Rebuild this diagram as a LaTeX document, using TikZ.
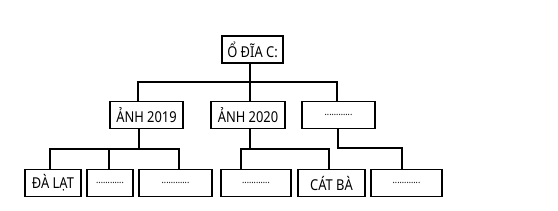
\documentclass[tikz,border=0pt]{standalone}
\usepackage{fontspec}
\setmainfont{Noto Sans}[FakeStretch=0.86]
\begin{document}
\begin{tikzpicture}[x=1pt,y=-1pt,
  box/.style={draw,line width=1.5pt,rectangle,inner sep=0pt,minimum height=27pt,font=\fontsize{15}{15}\selectfont},
  dots/.style={font=\fontsize{10}{10}\selectfont},
  conn/.style={line width=1.2pt}]
\useasboundingbox (0,0) rectangle (558,210);
\node[box,minimum width=61pt] (root) at (252.5,49.5) {Ổ ĐĨA C:};
\node[box,minimum width=73pt] (a19) at (146.5,115) {ẢNH 2019};
\node[box,minimum width=74pt] (a20) at (248,115) {ẢNH 2020};
\node[box,dots,minimum width=73pt] (d2) at (338.5,115) {............};
\node[box,minimum width=56pt] (b1) at (53,183) {ĐÀ LẠT};
\node[box,dots,minimum width=46pt] (b2) at (110,183) {............};
\node[box,dots,minimum width=73pt] (b3) at (175.5,183) {............};
\node[box,dots,minimum width=70pt] (b4) at (256,183) {............};
\node[box,minimum width=67pt] (b5) at (331.5,183) {CÁT BÀ};
\node[box,dots,minimum width=71pt] (b6) at (406.5,183) {............};
% level 1
\coordinate (j1) at (250,82);
\coordinate (j1l) at (138,82);
\coordinate (j1r) at (337,82);
\draw[conn] (j1 |- root.south) -- (j1);
\draw[conn] (j1l |- a19.north) -- (j1l) -- (j1r) -- (j1r |- d2.north);
\draw[conn] (j1) -- (j1 |- a20.north);
% level 2, first group
\coordinate (k1) at (139,149);
\coordinate (k1l) at (50,149);
\coordinate (k1m) at (109,149);
\coordinate (k1r) at (179,149);
\draw[conn] (k1 |- a19.south) -- (k1);
\draw[conn] (k1l |- b1.north) -- (k1l) -- (k1r) -- (k1r |- b3.north);
\draw[conn] (k1m) -- (k1m |- b2.north);
% second group
\coordinate (k2) at (250,149);
\coordinate (k2l) at (241,149);
\coordinate (k2r) at (329,149);
\draw[conn] (k2 |- a20.south) -- (k2);
\draw[conn] (k2l |- b4.north) -- (k2l) -- (k2r) -- (k2r |- b5.north);
% third group
\coordinate (k3) at (338,148);
\coordinate (k3r) at (402,148);
\draw[conn] (k3 |- d2.south) -- (k3) -- (k3r) -- (k3r |- b6.north);
\end{tikzpicture}
\end{document}
